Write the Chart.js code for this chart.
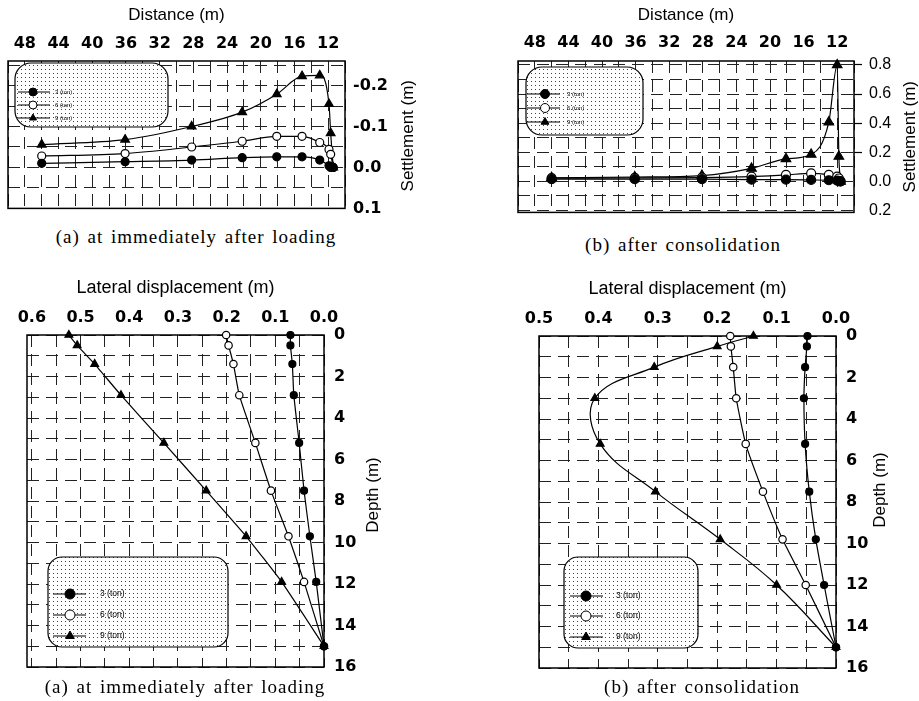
<!DOCTYPE html>
<html>
<head>
<meta charset="utf-8">
<script src="https://cdn.jsdelivr.net/npm/chart.js@4.4.1/dist/chart.umd.min.js"></script>
<style>
  html, body { margin: 0; padding: 0; background: #fff; }
  #page { position: relative; width: 919px; height: 701px; overflow: hidden; }
  canvas { position: absolute; }
  .cap {
    position: absolute; transform: translateX(-50%);
    font-family: "Liberation Serif", "DejaVu Serif", serif; font-size: 19px;
    letter-spacing: 1px; word-spacing: 2px; line-height: 20px;
    color: #000; white-space: nowrap;
  }
</style>
</head>
<body>
<div id="page">
  <canvas id="c1" width="430" height="226" style="left:0;top:0"></canvas>
  <canvas id="c2" width="469" height="229" style="left:450px;top:0"></canvas>
  <canvas id="c3" width="400" height="429" style="left:0;top:272px"></canvas>
  <canvas id="c4" width="459" height="429" style="left:460px;top:272px"></canvas>
  <div class="cap" style="left:196px;top:227px">(a) at immediately after loading</div>
  <div class="cap" style="left:683px;top:235px">(b) after consolidation</div>
  <div class="cap" style="left:185px;top:677px">(a) at immediately after loading</div>
  <div class="cap" style="left:702px;top:677px">(b) after consolidation</div>
</div>
<script>
const loadLabels = ["3 (ton)", "6 (ton)", "9 (ton)"];

// settlement, immediately after loading
const distA = [46.0, 36.1, 28.2, 22.2, 18.1, 15.1, 13.0, 11.9, 11.7, 11.4];
const settleA3 = [-0.010, -0.014, -0.018, -0.024, -0.026, -0.026, -0.018, -0.004, 0.0, 0.0];
const settleA6 = [-0.028, -0.034, -0.050, -0.064, -0.076, -0.076, -0.061, -0.044, -0.032, 0.0];
const settleA9 = [-0.056, -0.068, -0.100, -0.135, -0.179, -0.223, -0.225, -0.155, -0.084, 0.0];

// settlement, after consolidation
const distB = [46.0, 36.1, 28.1, 22.2, 18.1, 15.1, 13.0, 12.0, 11.8, 11.6];
const settleB3 = [0.015, 0.015, 0.015, 0.012, 0.012, 0.010, 0.008, 0.005, 0.002, 0.0];
const settleB6 = [0.022, 0.024, 0.026, 0.033, 0.045, 0.055, 0.045, 0.033, 0.020, 0.0];
const settleB9 = [0.025, 0.030, 0.040, 0.089, 0.155, 0.185, 0.407, 0.800, 0.171, 0.0];

// lateral displacement, immediately after loading
const depthA = [0, 0.5, 1.4, 2.9, 5.2, 7.5, 9.7, 11.9, 15.0];
const latA3 = [0.069, 0.069, 0.065, 0.062, 0.051, 0.041, 0.029, 0.016, 0.0];
const latA6 = [0.201, 0.196, 0.186, 0.174, 0.141, 0.109, 0.073, 0.041, 0.0];
const latA9 = [0.524, 0.507, 0.471, 0.417, 0.329, 0.242, 0.160, 0.087, 0.0];

// lateral displacement, after consolidation
const depthB = [0, 0.5, 1.5, 3.0, 5.2, 7.5, 9.8, 12.0, 15.0];
const latB3 = [0.048, 0.049, 0.052, 0.054, 0.052, 0.045, 0.034, 0.020, 0.0];
const latB6 = [0.178, 0.177, 0.173, 0.168, 0.152, 0.123, 0.090, 0.051, 0.0];
const latB9 = [0.139, 0.200, 0.306, 0.406, 0.397, 0.304, 0.195, 0.100, 0.0];

// ticks / grid
const distGrid = [10, 12, 14, 16, 18, 20, 22, 24, 26, 28, 30, 32, 34, 36, 38, 40, 42, 44, 46, 48, 50];
const distLabels = [48, 44, 40, 36, 32, 28, 24, 20, 16, 12];
const settleGridA = [-0.25, -0.2, -0.15, -0.1, -0.05, 0, 0.05, 0.1];
const settleLabelsA = [-0.2, -0.1, 0, 0.1];
const settleGridB = [-0.2, -0.1, 0, 0.1, 0.2, 0.3, 0.4, 0.5, 0.6, 0.7, 0.8];
const settleLabelsB = [-0.2, 0, 0.2, 0.4, 0.6, 0.8];
const latGridA = [0, 0.05, 0.1, 0.15, 0.2, 0.25, 0.3, 0.35, 0.4, 0.45, 0.5, 0.55, 0.6];
const latLabelsA = [0, 0.1, 0.2, 0.3, 0.4, 0.5, 0.6];
const latGridB = [0, 0.05, 0.1, 0.15, 0.2, 0.25, 0.3, 0.35, 0.4, 0.45, 0.5];
const latLabelsB = [0, 0.1, 0.2, 0.3, 0.4, 0.5];
const depthGrid = [0, 1, 2, 3, 4, 5, 6, 7, 8, 9, 10, 11, 12, 13, 14, 15, 16];
const depthLabels = [0, 2, 4, 6, 8, 10, 12, 14, 16];

const has = (arr, v) => arr.some(a => Math.abs(a - v) < 1e-6);
const fmt1 = v => (Math.abs(v) < 1e-9 ? 0 : v).toFixed(1);

const markStyles = [
  { pointStyle: "circle", fill: "#000" },
  { pointStyle: "circle", fill: "#fff" },
  { pointStyle: "triangle", fill: "#000" },
];

// dotted fill for the legend boxes
const dotTile = document.createElement("canvas");
dotTile.width = 4;
dotTile.height = 4;
const dctx = dotTile.getContext("2d");
dctx.fillStyle = "#444";
dctx.fillRect(1, 1, 1, 1);

function drawMarker(ctx, style, x, y, r, fill) {
  ctx.beginPath();
  if (style === "triangle") {
    ctx.moveTo(x, y - r);
    ctx.lineTo(x + r * 0.866, y + r * 0.5);
    ctx.lineTo(x - r * 0.866, y + r * 0.5);
    ctx.closePath();
  } else {
    ctx.arc(x, y, r, 0, Math.PI * 2);
  }
  ctx.fillStyle = fill;
  ctx.fill();
  ctx.lineWidth = 1;
  ctx.strokeStyle = "#000";
  ctx.stroke();
}

const decoPlugin = {
  id: "deco",
  beforeDatasetsDraw(chart) {
    const { ctx, chartArea: a } = chart;
    ctx.save();
    ctx.strokeStyle = "#000";
    ctx.lineWidth = 1.5;
    ctx.strokeRect(a.left, a.top, a.right - a.left, a.bottom - a.top);
    ctx.restore();
  },
  afterDraw(chart, args, opts) {
    const { ctx, chartArea: a } = chart;
    const lg = opts.legend;
    ctx.save();
    // legend box
    const bx = a.left + lg.x, by = a.top + lg.y;
    ctx.beginPath();
    ctx.roundRect(bx, by, lg.w, lg.h, lg.r);
    ctx.fillStyle = "#fff";
    ctx.fill();
    ctx.fillStyle = ctx.createPattern(dotTile, "repeat");
    ctx.fill();
    ctx.lineWidth = 1.2;
    ctx.strokeStyle = "#000";
    ctx.stroke();
    chart.data.datasets.forEach((ds, i) => {
      const y = a.top + lg.ys[i];
      ctx.beginPath();
      ctx.moveTo(a.left + lg.lx0, y);
      ctx.lineTo(a.left + lg.lx1, y);
      ctx.lineWidth = 1;
      ctx.strokeStyle = "#000";
      ctx.stroke();
      drawMarker(ctx, markStyles[i].pointStyle, a.left + lg.mx, y, lg.radius, markStyles[i].fill);
      ctx.fillStyle = "#000";
      ctx.font = lg.font + 'px "Liberation Sans"';
      ctx.textBaseline = "middle";
      ctx.textAlign = "left";
      ctx.fillText(ds.label, a.left + lg.tx, y);
    });
    // rotated axis title on the right
    ctx.translate(a.right + opts.titleDx, (a.top + a.bottom) / 2 + opts.titleDy);
    ctx.rotate(-Math.PI / 2);
    ctx.fillStyle = "#000";
    ctx.font = '17px "Liberation Sans"';
    ctx.textAlign = "center";
    ctx.textBaseline = "middle";
    ctx.fillText(opts.title, 0, 0);
    ctx.restore();
  },
};

function xScale(o) {
  return {
    type: "linear",
    position: "top",
    reverse: true,
    min: o.min,
    max: o.max,
    afterBuildTicks: (s) => { s.ticks = o.grid.map(v => ({ value: v })); },
    afterFit: (s) => { s.height = o.h; },
    ticks: {
      autoSkip: false, maxRotation: 0, minRotation: 0,
      padding: o.pad, color: "#000",
      font: { family: "DejaVu Sans", size: o.size, weight: "bold" },
      callback: v => has(o.labels, v) ? o.fmt(v) : "",
    },
    grid: { color: "#222", lineWidth: 1, drawTicks: false },
    border: { display: false, dash: [12, 7] },
    title: {
      display: true, text: o.title, color: "#000",
      font: { family: "Liberation Sans", size: o.titleSize },
      padding: { top: o.titlePad, bottom: 0 },
    },
  };
}

function yScale(o) {
  return {
    type: "linear",
    position: "right",
    reverse: o.reverse,
    min: o.min,
    max: o.max,
    afterBuildTicks: (s) => { s.ticks = o.grid.map(v => ({ value: v })); },
    afterFit: (s) => { s.width = o.w; },
    ticks: {
      autoSkip: false, padding: o.pad, color: "#000",
      font: o.font,
      callback: v => has(o.labels, v) ? o.fmt(v) : "",
    },
    grid: {
      color: "#222", lineWidth: 1,
      drawTicks: !!o.tickLen, tickLength: o.tickLen || 0, tickWidth: 1.2,
      tickColor: c => (o.tickLen && c.tick && c.tick.value > 0.1 && has(o.labels, c.tick.value)) ? "#000" : "rgba(0,0,0,0)",
    },
    border: { display: false, dash: [12, 7] },
    title: { display: false },
  };
}

function makeSets(xs, ys, radii, tension, mono) {
  return ys.map((vals, i) => ({
    label: loadLabels[i],
    data: vals.map((v, j) => mono ? { x: xs[j], y: v } : { x: v, y: xs[j] }),
    showLine: true,
    borderColor: "#000",
    borderWidth: 1.2,
    pointStyle: markStyles[i].pointStyle,
    pointRadius: radii[i],
    pointBackgroundColor: markStyles[i].fill,
    pointBorderColor: "#000",
    pointBorderWidth: 1.2,
    tension: tension[i],
    cubicInterpolationMode: mono ? "monotone" : "default",
    clip: false,
  }));
}

function makeChart(id, sets, scales, pad, deco) {
  return new Chart(document.getElementById(id), {
    type: "scatter",
    data: { datasets: sets },
    options: {
      responsive: false,
      animation: false,
      events: [],
      layout: { padding: { left: pad.left, right: 0, top: 0, bottom: pad.bottom } },
      scales: scales,
      plugins: { legend: { display: false }, tooltip: { enabled: false }, deco: deco },
    },
    plugins: [decoPlugin],
  });
}

const boldTick = size => ({ family: "DejaVu Sans", size: size, weight: "bold" });

// (a) settlement
makeChart("c1",
  makeSets(distA, [settleA3, settleA6, settleA9], [4, 4, 5], [0, 0, 0], true),
  {
    x: xScale({ min: 10, max: 50, grid: distGrid, labels: distLabels, fmt: v => String(v),
      h: 61, pad: 8, size: 16, title: "Distance (m)", titleSize: 17, titlePad: 5 }),
    y: yScale({ min: -0.26, max: 0.1, reverse: true, grid: settleGridA, labels: settleLabelsA, fmt: fmt1,
      w: 85, pad: 8, font: boldTick(16) }),
  },
  { left: 8, bottom: 14 },
  { title: "Settlement (m)", titleDx: 63, titleDy: 1,
    legend: { x: 7, y: 2, w: 153, h: 64, r: 16, mx: 25, lx0: 10, lx1: 42, tx: 47, ys: [31, 44, 57], radius: 4, font: 6 } });

// (b) settlement
makeChart("c2",
  makeSets(distB, [settleB3, settleB6, settleB9], [4.5, 4.5, 5.5], [0, 0, 0], true),
  {
    x: xScale({ min: 10, max: 50, grid: distGrid, labels: distLabels, fmt: v => String(v),
      h: 61, pad: 9, size: 16, title: "Distance (m)", titleSize: 17, titlePad: 5 }),
    y: yScale({ min: -0.213, max: 0.827, reverse: false, grid: settleGridB, labels: settleLabelsB,
      fmt: v => fmt1(Math.abs(v)), w: 65, pad: 7, tickLen: 8,
      font: { family: "Liberation Sans Narrow, Liberation Sans", size: 16 } }),
  },
  { left: 68, bottom: 12 },
  { title: "Settlement (m)", titleDx: 56, titleDy: 0,
    legend: { x: 8, y: 6, w: 117, h: 68, r: 16, mx: 27, lx0: 9, lx1: 42, tx: 49, ys: [33, 47, 61], radius: 4.5, font: 6 } });

// (a) lateral displacement
makeChart("c3",
  makeSets(depthA, [latA3, latA6, latA9], [3.5, 3.7, 4.5], [0.15, 0.15, 0.15], false),
  {
    x: xScale({ min: 0, max: 0.61, grid: latGridA, labels: latLabelsA, fmt: fmt1,
      h: 63, pad: 8, size: 16, title: "Lateral displacement (m)", titleSize: 18, titlePad: 5 }),
    y: yScale({ min: 0, max: 16, reverse: true, grid: depthGrid, labels: depthLabels, fmt: v => String(v),
      w: 76, pad: 10, font: boldTick(16) }),
  },
  { left: 27, bottom: 34 },
  { title: "Depth (m)", titleDx: 49, titleDy: -6,
    legend: { x: 21, y: 222, w: 180, h: 90, r: 14, mx: 43, lx0: 26, lx1: 59, tx: 73, ys: [259, 280, 301], radius: 5, font: 8.5 } });

// (b) lateral displacement
makeChart("c4",
  makeSets(depthB, [latB3, latB6, latB9], [3.5, 3.7, 4.5], [0.15, 0.15, 0.4], false),
  {
    x: xScale({ min: 0, max: 0.5, grid: latGridB, labels: latLabelsB, fmt: fmt1,
      h: 64, pad: 8, size: 16, title: "Lateral displacement (m)", titleSize: 18, titlePad: 6 }),
    y: yScale({ min: 0, max: 16, reverse: true, grid: depthGrid, labels: depthLabels, fmt: v => String(v),
      w: 83, pad: 10, font: boldTick(16) }),
  },
  { left: 79, bottom: 33 },
  { title: "Depth (m)", titleDx: 44, titleDy: -12,
    legend: { x: 25, y: 221, w: 134, h: 91, r: 14, mx: 47, lx0: 31, lx1: 64, tx: 77, ys: [260, 280, 301], radius: 5, font: 8.5 } });
</script>
</body>
</html>
